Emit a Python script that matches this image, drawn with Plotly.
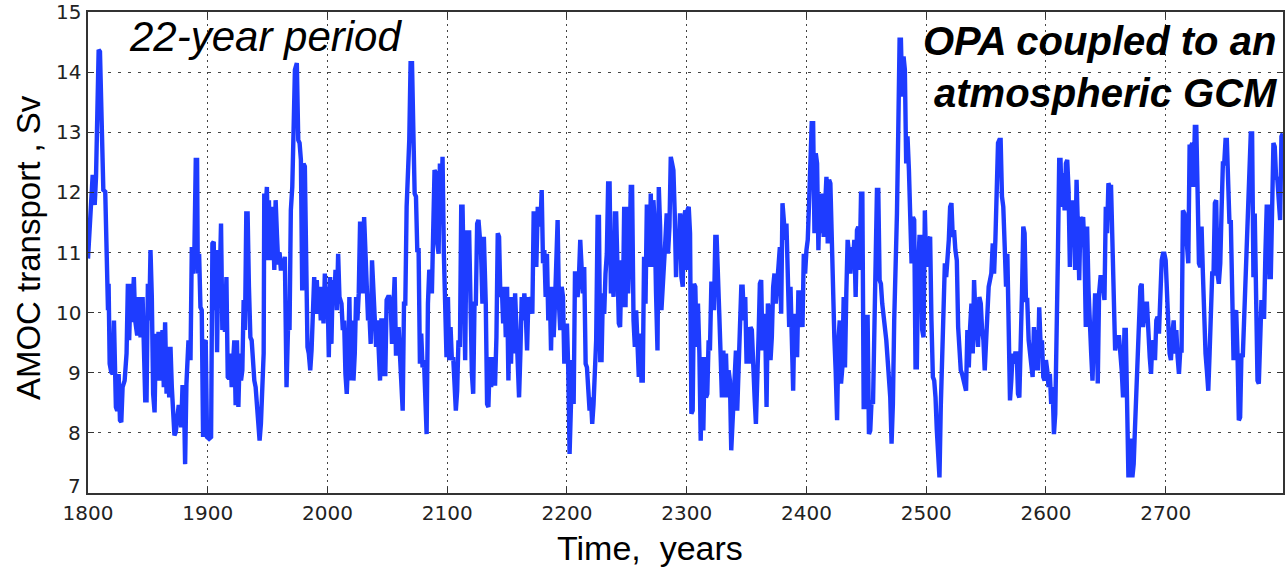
import plotly.graph_objects as go

# ---- data (year, AMOC transport in Sv) ----
years_a = [1800.0, 1802.8, 1803.9, 1805.6, 1806.7, 1807.8, 1808.9, 1810.0, 1810.8, 1811.7,
           1812.8, 1814.4, 1815.6, 1816.7, 1817.2, 1818.1, 1819.4, 1820.6, 1821.7, 1822.2,
           1823.3, 1824.4, 1825.6, 1826.7, 1827.8, 1828.9, 1830.6, 1832.2, 1833.3, 1834.4,
           1835.6, 1836.7, 1838.3, 1839.4, 1841.1, 1842.2, 1843.9, 1845.6, 1846.7, 1847.8,
           1848.9, 1850.0, 1851.1, 1852.2, 1853.3, 1854.4, 1855.6, 1856.7, 1857.8, 1858.9,
           1860.0, 1861.1, 1862.2, 1863.3, 1864.4, 1865.6, 1866.7, 1867.8, 1868.9, 1870.0,
           1871.1, 1872.2, 1873.3, 1874.4, 1875.6, 1876.7, 1877.8, 1878.9, 1880.0, 1881.1,
           1882.2, 1883.9, 1885.6, 1886.7, 1887.8, 1888.9, 1890.0, 1891.1, 1891.7, 1892.8,
           1893.9, 1895.0, 1896.1, 1897.2, 1898.3, 1899.4, 1901.1, 1902.8, 1903.9, 1905.0,
           1905.6, 1906.7, 1907.8, 1908.9, 1910.0, 1911.1, 1912.2, 1913.3, 1914.4, 1915.6,
           1916.7, 1917.8, 1918.9, 1920.0, 1921.1, 1922.2, 1923.3, 1924.4, 1925.6, 1926.7,
           1927.8, 1928.9, 1930.0, 1931.1, 1932.2, 1933.3, 1934.4, 1935.6, 1936.7, 1937.8,
           1938.9, 1940.0, 1941.1, 1942.2, 1943.3, 1944.4, 1945.6, 1946.7, 1947.2, 1948.3,
           1949.4, 1950.6, 1951.1, 1952.2, 1953.3, 1954.4, 1955.6, 1956.7, 1957.8, 1958.9,
           1960.0, 1961.1, 1962.2, 1963.3]
amoc_a = [10.90, 11.76, 12.29, 11.79, 12.26, 13.32, 14.37, 14.34, 13.54, 13.21,
          12.04, 12.01, 10.48, 10.04, 10.48, 9.15, 9.01, 8.98, 9.87, 9.04,
          8.43, 8.37, 8.98, 8.21, 8.18, 8.76, 8.87, 9.32, 10.48, 9.54,
          10.48, 9.84, 10.59, 9.87, 9.62, 10.26, 9.59, 10.26, 9.04, 8.54,
          8.54, 10.48, 9.87, 11.04, 10.26, 8.65, 8.34, 9.65, 8.87, 9.68,
          8.87, 9.32, 9.71, 8.76, 9.84, 8.65, 9.43, 8.59, 9.43, 8.76,
          8.09, 7.96, 8.01, 8.21, 8.43, 8.43, 8.09, 8.76, 8.76, 7.48,
          8.82, 9.54, 9.21, 11.09, 10.65, 11.09, 12.54, 12.54, 10.65, 10.98,
          10.09, 10.04, 7.93, 9.51, 9.54, 7.93, 7.90, 7.93, 11.15, 11.18,
          10.04, 11.04, 9.34, 11.04, 10.54, 11.48, 9.71, 10.04, 9.68, 10.59,
          8.93, 8.90, 9.32, 8.76, 9.21, 9.54, 8.46, 9.54, 8.43, 9.32,
          8.87, 9.04, 10.21, 9.71, 11.65, 11.65, 10.43, 9.59, 9.54, 8.98,
          8.87, 8.76, 8.48, 8.07, 7.87, 8.15, 8.98, 9.32, 11.98, 11.71,
          12.09, 10.87, 11.87, 10.87, 11.76, 11.54, 10.71, 11.87, 11.30, 10.80,
          11.00, 10.70, 10.90, 10.70]

years_b = [1964.4, 1965.8, 1967.2, 1968.3, 1969.4, 1970.6, 1971.7, 1972.8, 1974.4, 1975.6,
           1976.7, 1977.8, 1978.9, 1980.0, 1981.1, 1982.2, 1983.3, 1984.4, 1985.6, 1986.7,
           1987.8, 1988.9, 1990.0, 1991.1, 1992.2, 1993.3, 1994.4, 1995.6, 1996.7, 1997.8,
           1998.9, 2000.0, 2001.1, 2002.2, 2003.3, 2004.4, 2005.6, 2006.7, 2007.8, 2008.9,
           2010.0, 2011.7, 2012.8, 2013.9, 2015.0, 2016.1, 2017.2, 2018.3, 2019.4, 2020.6,
           2021.7, 2022.8, 2023.9, 2025.0, 2026.1, 2027.2, 2028.3, 2029.4, 2030.6, 2031.7,
           2032.8, 2033.9, 2035.0, 2036.1, 2037.2, 2038.3, 2039.4, 2040.6, 2041.7, 2042.8,
           2043.9, 2045.0, 2046.1, 2047.2, 2048.3, 2049.4, 2050.6, 2051.7, 2052.8, 2053.9,
           2055.0, 2056.1, 2057.2, 2058.3, 2059.4, 2060.6, 2061.7, 2062.8, 2063.9, 2065.0,
           2066.1, 2067.2, 2068.3, 2069.4, 2070.6, 2071.7, 2072.8, 2073.9, 2075.0, 2076.1,
           2077.2, 2078.3, 2079.4, 2080.6, 2081.7, 2082.8, 2083.9, 2085.0, 2086.1, 2087.2,
           2088.3, 2089.4, 2090.6, 2091.7, 2092.8, 2093.9, 2095.0, 2096.1, 2097.2, 2098.3,
           2099.4, 2100.6, 2101.7, 2102.8, 2103.9, 2105.0, 2106.1, 2107.2, 2108.3, 2109.4,
           2110.6, 2111.7, 2112.8, 2113.9, 2115.0, 2116.1, 2117.2, 2118.3, 2119.4, 2120.6,
           2121.7, 2122.8, 2123.9, 2125.0, 2126.1, 2127.2, 2128.3, 2129.4, 2130.6]
amoc_b = [10.93, 8.76, 9.87, 9.71, 11.70, 12.09, 13.04, 14.04, 14.15, 12.87,
          12.82, 12.54, 10.37, 12.48, 12.43, 10.43, 9.43, 9.32, 9.04, 9.37,
          9.87, 10.59, 9.98, 10.54, 9.98, 10.43, 9.87, 10.43, 9.82, 10.65,
          10.04, 10.43, 9.26, 10.59, 9.48, 10.54, 10.15, 10.71, 10.04, 10.98,
          10.26, 10.15, 9.71, 9.87, 8.98, 8.65, 9.21, 10.26, 8.87, 9.87,
          8.87, 9.32, 10.26, 9.87, 10.32, 11.48, 11.48, 10.32, 11.59, 10.98,
          10.26, 9.87, 9.98, 9.48, 10.87, 10.32, 9.71, 9.43, 9.87, 9.32,
          8.87, 9.87, 9.87, 8.98, 8.98, 10.21, 10.26, 10.26, 10.15, 9.48,
          10.26, 10.59, 9.32, 9.32, 9.76, 9.32, 9.04, 8.37, 10.15, 10.15,
          11.76, 12.37, 12.87, 14.15, 14.15, 13.04, 11.98, 11.93, 11.04, 11.04,
          9.15, 9.65, 9.09, 9.21, 8.59, 7.98, 10.15, 10.71, 10.65, 10.32,
          11.37, 12.37, 12.32, 11.15, 10.98, 12.48, 11.76, 12.59, 10.98, 10.21,
          9.26, 10.26, 9.21, 9.76, 9.21, 9.26, 8.76, 8.37, 8.70, 9.54,
          9.43, 11.76, 11.76, 10.59, 9.21, 11.37, 10.87, 11.37, 10.15, 8.98,
          8.65, 10.15, 10.15, 11.48, 11.54, 11.09, 10.98, 10.15, 11.26]

years_c = [2132.2, 2133.3, 2134.4, 2135.6, 2136.7, 2137.8, 2138.9, 2140.0, 2141.1, 2142.2,
           2143.3, 2144.4, 2145.6, 2146.7, 2147.8, 2148.9, 2150.0, 2151.1, 2152.2, 2153.3,
           2154.4, 2155.6, 2156.7, 2157.8, 2158.9, 2160.0, 2161.1, 2162.2, 2163.3, 2164.4,
           2165.6, 2166.7, 2167.8, 2168.9, 2170.0, 2171.1, 2172.2, 2173.3, 2174.4, 2175.6,
           2176.7, 2177.8, 2178.9, 2180.0, 2181.1, 2182.2, 2183.3, 2184.4, 2185.6, 2186.7,
           2187.8, 2188.9, 2190.0, 2191.1, 2192.2, 2193.3, 2194.4, 2195.6, 2196.7, 2197.8,
           2198.9, 2200.0, 2201.1, 2202.2, 2203.3, 2204.4, 2205.6, 2206.7, 2207.8, 2208.9,
           2210.0, 2211.1, 2212.2, 2213.3, 2214.4, 2215.6, 2216.7, 2217.8, 2218.9, 2220.0,
           2221.1, 2222.2, 2223.3, 2224.4, 2225.6, 2226.7, 2227.8, 2228.9, 2230.0, 2231.1,
           2232.2, 2233.3, 2234.4, 2235.6, 2236.7, 2237.8, 2238.9, 2240.0, 2241.1, 2242.2,
           2243.3, 2244.4, 2245.6, 2246.7, 2247.8, 2248.9, 2250.0, 2251.1, 2252.2, 2253.3,
           2254.4, 2255.6, 2256.7, 2257.8, 2258.9, 2260.0, 2261.1, 2262.2, 2263.3, 2264.4,
           2265.6, 2266.7, 2267.8, 2268.9, 2270.0, 2271.1, 2272.2, 2273.3, 2274.4, 2275.6,
           2276.7, 2277.8, 2278.9, 2280.0, 2281.1, 2282.2, 2283.3, 2284.4, 2285.6, 2286.7,
           2287.8, 2288.9, 2290.0, 2291.1, 2292.2, 2293.3, 2294.4, 2295.6, 2296.7, 2297.8,
           2298.9, 2300.0]
amoc_c = [10.15, 8.48, 8.43, 9.26, 8.76, 9.26, 8.82, 8.82, 9.59, 11.32,
          11.26, 10.26, 10.43, 9.82, 10.43, 9.59, 10.43, 8.87, 10.26, 9.15,
          10.26, 9.32, 10.32, 9.54, 8.87, 8.59, 9.32, 10.26, 9.87, 10.32,
          9.98, 9.37, 10.26, 9.98, 10.26, 9.98, 11.65, 11.65, 10.76, 11.76,
          11.65, 11.43, 12.04, 10.82, 11.04, 10.26, 10.98, 9.87, 10.43, 9.37,
          10.43, 9.59, 10.15, 11.32, 11.54, 10.15, 9.71, 10.43, 10.26, 9.15,
          9.59, 9.82, 9.04, 7.65, 8.43, 9.21, 8.48, 10.65, 10.65, 10.26,
          10.59, 11.21, 10.76, 10.32, 10.76, 9.15, 9.09, 8.76, 8.37, 8.59,
          8.15, 8.48, 9.32, 9.54, 11.59, 11.59, 9.21, 9.21, 10.32, 9.98,
          10.65, 10.98, 12.15, 12.15, 10.32, 10.65, 10.26, 11.65, 11.65, 10.82,
          9.82, 9.76, 10.87, 10.09, 11.76, 10.09, 11.76, 10.32, 10.93, 12.09,
          12.09, 9.87, 9.43, 10.04, 9.32, 8.93, 9.65, 8.87, 8.87, 10.93,
          10.15, 11.76, 11.76, 10.76, 11.98, 10.76, 11.87, 11.48, 10.32, 9.37,
          12.09, 11.43, 10.04, 10.37, 10.71, 11.21, 11.65, 10.98, 11.43, 12.59,
          12.48, 12.37, 11.65, 10.59, 11.32, 10.98, 11.65, 10.59, 10.43, 11.59,
          11.70, 10.71]

years_d = [2300.6, 2301.7, 2302.8, 2303.9, 2305.0, 2306.1, 2307.2, 2308.3, 2309.4, 2310.6,
           2311.7, 2312.8, 2313.9, 2315.0, 2316.1, 2317.2, 2318.3, 2319.4, 2320.6, 2321.7,
           2322.8, 2323.9, 2325.0, 2326.1, 2327.2, 2328.3, 2329.4, 2330.6, 2331.7, 2332.8,
           2333.9, 2335.0, 2336.1, 2337.2, 2338.3, 2339.4, 2340.0, 2341.1, 2342.2, 2343.3,
           2344.4, 2345.6, 2346.7, 2347.8, 2348.9, 2350.0, 2351.1, 2352.2, 2353.3, 2354.4,
           2355.6, 2356.7, 2357.8, 2358.9, 2360.0, 2361.1, 2362.2, 2363.3, 2364.4, 2365.6,
           2366.7, 2367.8, 2368.9, 2370.0, 2371.1, 2372.2, 2373.3, 2374.4, 2375.6, 2376.7,
           2377.8, 2378.9, 2380.0, 2381.1, 2382.2, 2383.3, 2384.4, 2385.6, 2386.7, 2387.8,
           2388.9, 2390.0, 2391.1, 2392.2, 2393.3, 2394.4, 2395.6, 2396.7, 2397.8, 2398.9,
           2400.0, 2401.1, 2402.2, 2403.3, 2404.4, 2405.6, 2406.7, 2407.8, 2408.9, 2410.0,
           2411.1, 2412.2, 2413.3, 2414.4, 2415.6, 2416.7, 2417.8, 2418.9, 2420.0, 2421.1,
           2422.2, 2423.3, 2424.4, 2425.6, 2426.7, 2427.8, 2428.9, 2430.0, 2431.1, 2432.2,
           2433.3, 2434.4, 2435.6, 2436.7, 2437.8, 2438.9, 2440.0, 2441.1, 2442.2, 2443.3,
           2444.4, 2445.6, 2446.7, 2447.8, 2448.9, 2450.0, 2451.1, 2452.2, 2453.3, 2454.4,
           2455.6, 2456.7, 2457.8, 2458.9, 2460.0, 2461.1, 2462.2, 2463.3]
amoc_d = [11.70, 11.76, 11.32, 8.32, 8.37, 10.48, 10.43, 9.43, 10.15, 9.32,
          7.87, 9.26, 8.04, 9.26, 8.59, 8.65, 9.54, 9.37, 10.48, 10.48,
          10.04, 11.26, 11.26, 10.32, 9.98, 9.32, 8.59, 9.37, 8.59, 9.32,
          8.59, 9.04, 8.87, 7.71, 8.21, 8.65, 9.15, 9.37, 8.37, 8.87,
          9.71, 10.43, 10.43, 9.87, 10.26, 9.15, 9.76, 9.15, 9.76, 9.71,
          8.93, 8.59, 8.15, 9.32, 9.59, 10.48, 10.54, 9.37, 9.98, 9.71,
          8.43, 10.15, 10.04, 9.21, 9.59, 10.43, 10.65, 10.15, 10.54, 10.98,
          11.09, 9.98, 11.82, 11.54, 11.21, 11.48, 10.43, 9.76, 10.43, 9.71,
          8.70, 9.98, 9.54, 9.26, 10.37, 9.76, 10.37, 9.76, 10.98, 10.65,
          11.04, 11.21, 11.82, 12.37, 13.15, 13.15, 11.32, 12.65, 12.48, 11.04,
          11.98, 11.32, 11.98, 11.26, 12.04, 12.26, 11.15, 12.21, 12.15, 11.15,
          10.43, 9.59, 9.04, 8.21, 9.54, 9.87, 8.82, 9.09, 10.26, 9.09,
          10.32, 11.21, 10.98, 10.65, 11.09, 10.87, 11.21, 10.26, 11.37, 11.43,
          10.71, 11.98, 11.98, 8.43, 8.43, 9.93, 9.93, 7.98, 8.04, 8.54,
          8.48, 9.98, 10.98, 12.04, 12.04, 10.54, 10.48, 10.15]

years_e = [2466.7, 2467.8, 2468.9, 2470.0, 2471.1, 2472.2, 2473.3, 2474.4, 2475.6, 2476.7,
           2477.8, 2478.9, 2480.0, 2481.1, 2482.2, 2483.3, 2484.4, 2485.6, 2486.7, 2487.8,
           2488.9, 2490.0, 2491.1, 2492.2, 2493.3, 2494.4, 2495.6, 2496.7, 2497.8, 2498.9,
           2500.0, 2501.1, 2502.2, 2503.3, 2504.4, 2505.6, 2506.7, 2507.8, 2508.9, 2510.0,
           2511.1, 2512.2, 2513.3, 2514.4, 2515.6, 2516.7, 2517.8, 2518.9, 2520.0, 2521.1,
           2522.2, 2523.3, 2524.4, 2525.6, 2526.7, 2527.8, 2528.9, 2530.0, 2531.1, 2532.2,
           2533.3, 2534.4, 2535.6, 2536.7, 2537.8, 2538.9, 2540.0, 2541.1, 2542.2, 2543.3,
           2544.4, 2545.6, 2546.7, 2547.8, 2548.9, 2550.0, 2551.1, 2552.2, 2553.3, 2554.4,
           2555.6, 2556.7, 2557.8, 2558.9, 2560.0, 2561.1, 2562.2, 2563.3, 2564.4, 2565.6,
           2566.7, 2567.8, 2568.9, 2570.0, 2571.1, 2572.2, 2573.3, 2574.4, 2575.6, 2576.7,
           2577.8, 2578.9, 2580.0, 2581.1, 2582.2, 2583.3, 2584.4, 2585.6, 2586.7, 2587.8,
           2588.9, 2590.0, 2591.1, 2592.2, 2593.3, 2594.4, 2595.6, 2596.7, 2597.8, 2598.9,
           2600.0, 2601.1, 2602.2, 2603.3, 2604.4, 2605.6, 2606.7, 2607.8, 2608.9, 2610.0,
           2611.1, 2612.2, 2613.3, 2614.4, 2615.6, 2616.7, 2617.8, 2618.9, 2620.0, 2621.1,
           2622.2, 2623.3, 2624.4, 2625.6, 2626.7, 2627.8, 2628.9, 2630.0]
amoc_e = [9.54, 9.21, 8.98, 8.59, 7.82, 8.48, 9.87, 10.54, 11.65, 13.04,
          14.54, 14.54, 13.59, 14.26, 14.04, 12.48, 12.93, 12.37, 11.76, 10.82,
          11.59, 11.54, 9.09, 9.09, 10.76, 11.26, 11.26, 9.71, 9.59, 11.70,
          10.76, 11.26, 11.21, 11.26, 9.87, 8.93, 8.87, 8.59, 8.04, 7.48,
          7.26, 8.43, 9.32, 9.93, 10.82, 10.59, 10.82, 11.21, 11.76, 11.82,
          11.26, 11.37, 11.04, 10.87, 9.76, 9.21, 9.04, 8.98, 8.87, 8.76,
          8.70, 9.71, 9.09, 9.76, 10.15, 9.32, 10.54, 9.98, 9.59, 9.43,
          10.26, 10.15, 9.71, 9.54, 9.04, 9.59, 9.87, 10.43, 10.54, 10.65,
          11.15, 10.65, 11.21, 11.98, 12.82, 12.87, 12.87, 11.93, 11.76, 11.09,
          10.43, 10.98, 10.04, 8.54, 8.87, 9.32, 9.15, 9.32, 9.32, 8.65,
          8.59, 9.32, 10.32, 11.43, 11.32, 10.21, 10.21, 9.54, 9.26, 9.09,
          8.93, 9.76, 9.04, 9.71, 9.04, 10.09, 9.43, 9.54, 8.93, 8.87,
          9.21, 9.04, 8.76, 8.98, 8.48, 8.76, 7.98, 8.32, 9.32, 10.93,
          12.54, 12.54, 11.76, 12.32, 11.70, 12.48, 12.54, 12.04, 10.76, 11.87,
          11.09, 11.87, 10.71, 12.21, 11.43, 10.54, 11.59, 11.48]

years_f = [2631.1, 2632.2, 2633.3, 2634.4, 2635.6, 2636.7, 2637.8, 2638.9, 2640.0, 2641.1,
           2642.2, 2643.3, 2644.4, 2645.6, 2646.7, 2647.8, 2648.9, 2650.0, 2651.1, 2652.2,
           2653.3, 2654.4, 2655.6, 2656.7, 2657.8, 2658.9, 2660.0, 2661.1, 2662.2, 2663.3,
           2664.4, 2665.6, 2666.7, 2667.8, 2668.9, 2670.0, 2671.1, 2672.2, 2673.3, 2674.4,
           2675.6, 2676.7, 2677.8, 2678.9, 2680.0, 2681.1, 2682.2, 2683.3, 2684.4, 2685.6,
           2686.7, 2687.8, 2688.9, 2690.0, 2691.1, 2692.2, 2693.3, 2694.4, 2695.6, 2696.7,
           2697.8, 2698.9, 2700.0, 2701.1, 2702.2, 2703.3, 2704.4, 2705.6, 2706.7, 2707.8,
           2708.9, 2710.0, 2711.1, 2712.2, 2713.3, 2714.4, 2715.6, 2716.7, 2717.8, 2718.9,
           2720.0, 2721.1, 2722.2, 2723.3, 2724.4, 2725.6, 2726.7, 2727.8, 2728.9, 2730.0,
           2731.1, 2732.2, 2733.3, 2734.4, 2735.6, 2736.7, 2737.8, 2738.9, 2740.0, 2741.1,
           2742.2, 2743.3, 2744.4, 2745.6, 2746.7, 2747.8, 2748.9, 2750.0, 2751.1, 2752.2,
           2753.3, 2754.4, 2755.6, 2756.7, 2757.8, 2758.9, 2760.0, 2761.1, 2762.2, 2763.3,
           2764.4, 2765.6, 2766.7, 2767.8, 2768.9, 2770.0, 2771.1, 2772.2, 2773.3, 2774.4,
           2775.6, 2776.7, 2777.8, 2778.9, 2780.0, 2781.1, 2782.2, 2783.3, 2784.4, 2785.6,
           2786.7, 2787.8, 2788.9, 2790.0, 2791.1, 2792.2, 2793.3, 2794.4, 2795.6, 2796.7,
           2797.8]
amoc_f = [11.59, 11.04, 9.76, 11.43, 10.37, 9.98, 9.32, 8.87, 9.98, 10.32,
          10.21, 8.82, 10.32, 10.59, 10.59, 10.43, 10.21, 11.76, 11.32, 12.15,
          12.09, 12.09, 10.98, 9.59, 9.37, 9.54, 9.59, 9.59, 9.37, 9.04,
          8.59, 9.71, 9.71, 7.82, 7.26, 7.87, 7.87, 7.26, 7.48, 8.09,
          8.76, 9.32, 9.54, 10.43, 10.48, 9.76, 9.98, 10.15, 10.15, 9.43,
          9.26, 8.98, 9.54, 9.43, 9.21, 9.87, 9.93, 9.65, 10.54, 10.87,
          10.98, 10.98, 10.87, 9.98, 9.82, 9.32, 9.21, 9.65, 9.87, 9.32,
          9.71, 9.26, 8.98, 9.37, 9.37, 11.70, 11.65, 11.43, 11.04, 10.82,
          12.76, 12.76, 12.82, 12.09, 13.09, 13.09, 11.98, 10.82, 10.76, 11.43,
          10.65, 9.87, 9.32, 9.04, 8.70, 9.32, 9.98, 10.65, 10.65, 11.82,
          11.87, 10.65, 10.48, 10.82, 11.70, 12.48, 12.48, 12.87, 12.87, 12.04,
          11.48, 11.54, 10.15, 9.21, 9.98, 10.04, 9.32, 8.21, 8.26, 9.32,
          9.26, 9.98, 10.65, 11.37, 11.65, 12.43, 12.98, 12.98, 10.59, 11.65,
          10.43, 8.87, 8.82, 9.65, 10.21, 9.93, 9.93, 10.98, 11.76, 11.76,
          10.59, 10.59, 11.59, 12.82, 12.76, 12.26, 12.21, 11.93, 11.54, 12.93,
          12.98]

x_ticks = [1800, 1900, 2000, 2100, 2200, 2300, 2400, 2500, 2600, 2700]
y_ticks = [7, 8, 9, 10, 11, 12, 13, 14, 15]

year_segments = [years_a, years_b, years_c, years_d, years_e, years_f]
amoc_segments = [amoc_a, amoc_b, amoc_c, amoc_d, amoc_e, amoc_f]
years, amoc = [], []
for ys, vs in zip(year_segments, amoc_segments):
    n = min(len(ys), len(vs))
    years += ys[:n]
    amoc += vs[:n]

# ---- figure ----
W, H = 1286, 568
L, R, T, B = 88, 1, 12, 75
pw, ph = W - L - R, H - T - B

def px(x):
    return (x - L) / pw

def py(y):
    return (H - B - y) / ph

fig = go.Figure()
fig.add_trace(go.Scatter(x=years, y=amoc, mode="lines",
                         line=dict(color="#1e3cff", width=4.4),
                         hoverinfo="skip", showlegend=False))

tickfont = dict(family="DejaVu Sans", size=20, color="#222222")
common = dict(showgrid=True, gridcolor="#444444", gridwidth=1,
              showline=True, linecolor="#333333", linewidth=1.5, mirror="ticks",
              ticks="inside", ticklen=6, tickcolor="#333333",
              zeroline=False, tickfont=tickfont)

fig.update_xaxes(range=[1800, 2798], tickvals=x_ticks, griddash="2px,4px",
                 ticklabelstandoff=1, **common)
# y tick labels are drawn as text next to the axis (so the bottom "7" can sit
# just above the "1800" label, as in the original)
fig.update_yaxes(range=[7, 15], tickvals=y_ticks, griddash="3px,7px",
                 showticklabels=False, **common)

annotations = [
    dict(text="<i>22-year period</i>", xref="paper", yref="paper",
         x=px(127), y=py(37), xanchor="left", yanchor="middle", showarrow=False,
         font=dict(family="Liberation Sans", size=42, color="black")),
    dict(text="<b><i>OPA coupled to an<br>atmospheric GCM</i></b>", xref="paper", yref="paper",
         x=px(1282), y=py(67), xanchor="right", yanchor="middle", align="right",
         showarrow=False,
         font=dict(family="Liberation Sans", size=40, color="black")),
    dict(text="AMOC transport , Sv", xref="paper", yref="paper",
         x=px(28), y=py(248), xanchor="center", yanchor="middle", textangle=-90,
         showarrow=False, font=dict(family="Liberation Sans", size=33, color="black")),
    dict(text="Time,\u00a0 years", xref="paper", yref="paper",
         x=px(651), y=py(548), xanchor="center", yanchor="middle",
         showarrow=False, font=dict(family="Liberation Sans", size=34, color="black")),
]
for v in y_ticks:
    annotations.append(dict(text=str(v), xref="paper", yref="y",
                            x=px(83), y=v, xanchor="right", yanchor="middle",
                            yshift=(7 if v == y_ticks[0] else 0),
                            showarrow=False, font=tickfont))

fig.update_layout(
    width=W, height=H,
    margin=dict(l=L, r=R, t=T, b=B, pad=0),
    plot_bgcolor="white", paper_bgcolor="white",
    showlegend=False,
    font=dict(family="Liberation Sans"),
    annotations=annotations,
)

fig.write_html("out.html")
